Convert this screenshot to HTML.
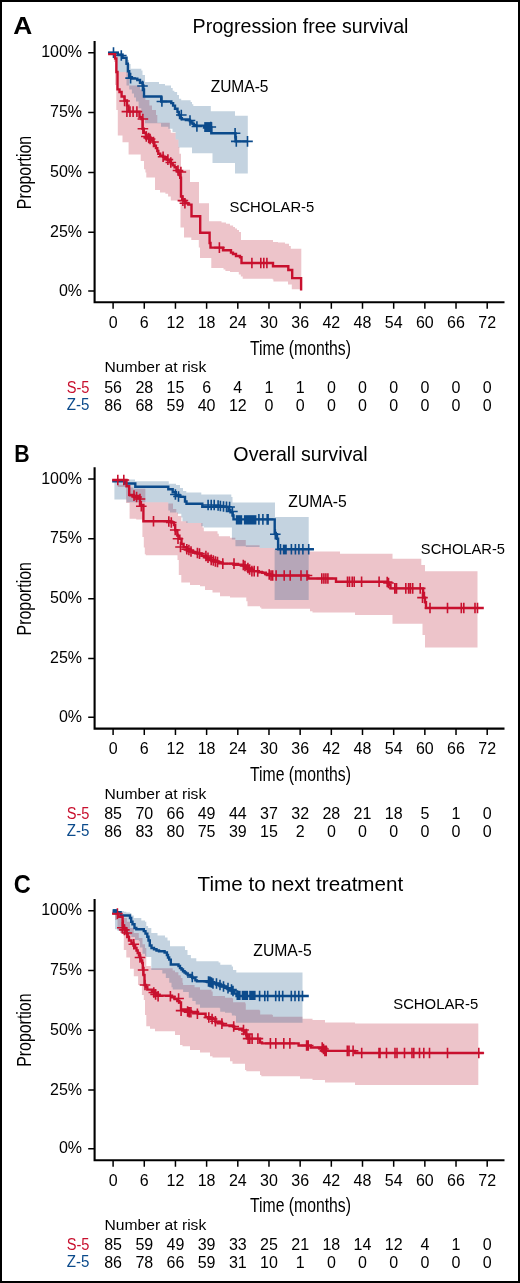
<!DOCTYPE html>
<html><head><meta charset="utf-8"><style>
html,body{margin:0;padding:0;background:#fff;overflow:hidden;}
svg{display:block;font-family:"Liberation Sans", sans-serif;will-change:transform;}
</style></head><body>
<svg width="520" height="1283" viewBox="0 0 520 1283" font-family='"Liberation Sans", sans-serif'>
<rect x="1" y="1" width="518" height="1281" fill="none" stroke="#000" stroke-width="2"/>
<polygon points="108.80,53.50 114.00,53.50 114.00,60.00 116.00,60.00 116.00,66.00 117.00,66.00 117.00,72.00 129.20,72.00 129.20,85.40 140.00,85.40 140.00,89.40 142.70,89.40 142.70,95.00 145.40,95.00 145.40,100.00 149.40,100.00 149.40,105.60 152.00,105.60 152.00,110.00 156.00,110.00 156.00,115.00 157.30,115.00 157.30,122.80 169.80,122.80 169.80,129.80 170.80,129.80 170.80,132.70 175.60,132.70 175.60,139.40 178.50,139.40 178.50,147.00 179.40,147.00 179.40,153.80 181.00,153.80 181.00,169.80 190.00,169.80 190.00,182.00 199.00,182.00 199.00,203.30 209.00,203.30 209.00,221.30 221.50,221.30 221.50,222.50 226.00,222.50 226.00,223.70 230.00,223.70 230.00,225.60 233.10,225.60 233.10,227.00 235.00,227.00 235.00,228.50 237.00,228.50 237.00,230.00 239.00,230.00 239.00,232.00 241.00,232.00 241.00,240.00 273.00,240.00 273.00,241.90 278.00,241.90 278.00,242.50 285.00,242.50 285.00,243.80 289.00,243.80 289.00,246.00 290.80,246.00 290.80,248.70 301.30,248.70 301.30,290.00 301.30,289.20 291.80,289.20 291.80,284.60 288.00,284.60 288.00,281.50 273.40,281.50 273.40,279.60 272.60,279.60 272.60,278.80 242.70,278.80 242.70,276.50 240.80,276.50 240.80,274.50 238.80,274.50 238.80,272.00 230.00,272.00 230.00,271.00 225.40,271.00 225.40,269.50 223.50,269.50 223.50,268.00 211.30,268.00 211.30,258.00 200.00,258.00 200.00,247.50 198.80,247.50 198.80,240.00 191.30,240.00 191.30,237.50 184.00,237.50 184.00,227.50 180.50,227.50 180.50,201.90 178.80,201.90 178.80,200.60 170.80,200.60 170.80,196.50 168.10,196.50 168.10,193.80 165.40,193.80 165.40,192.50 160.00,192.50 160.00,190.00 155.00,190.00 155.00,177.50 146.30,177.50 146.30,172.50 145.40,172.50 145.40,169.20 144.00,169.20 144.00,161.10 140.70,161.10 140.70,154.40 128.60,154.40 128.60,142.30 122.50,142.30 122.50,135.60 117.80,135.60 117.80,110.00 116.30,110.00 116.30,85.00 115.00,85.00 115.00,62.00 114.00,62.00 114.00,53.50 108.80,53.50" fill="#b7132b" fill-opacity="0.25"/>
<polygon points="113.00,53.00 123.80,53.00 123.80,57.50 127.50,57.50 127.50,60.00 129.00,60.00 129.00,64.00 130.60,64.00 130.60,68.80 141.30,68.80 141.30,70.60 142.50,70.60 142.50,75.00 145.00,75.00 145.00,82.00 159.00,82.00 159.00,84.00 165.00,84.00 165.00,85.40 171.00,85.40 171.00,88.00 172.70,88.00 172.70,90.80 174.40,90.80 174.40,92.00 177.10,92.00 177.10,95.00 179.00,95.00 179.00,98.80 181.20,98.80 181.20,100.20 190.60,100.20 190.60,102.00 192.00,102.00 192.00,104.20 193.30,104.20 193.30,106.00 210.80,106.00 210.80,111.20 235.00,111.20 235.00,115.80 247.80,115.80 247.80,173.40 235.00,173.40 235.00,163.10 212.50,163.10 212.50,153.30 192.00,153.30 192.00,147.40 178.50,147.40 178.50,139.40 175.60,139.40 175.60,132.00 172.50,132.00 172.50,128.80 168.30,128.80 168.30,126.80 161.00,126.80 161.00,123.20 145.00,123.20 145.00,119.00 143.80,119.00 143.80,115.00 141.30,115.00 141.30,108.30 138.60,108.30 138.60,101.50 136.00,101.50 136.00,97.50 134.00,97.50 134.00,93.50 131.90,93.50 131.90,89.40 129.20,89.40 129.20,85.40 126.50,85.40 126.50,72.00 117.00,72.00 117.00,56.00 115.00,56.00 115.00,53.00 113.00,53.00" fill="#134f83" fill-opacity="0.25"/>
<path d="M108.10,52.60H117.80V54.70H122.50V57.80H126.50V63.80H127.90V71.20H129.20V77.30H131.90V78.60H137.30V80.00H140.00V82.70H142.70V85.40H143.40V89.40H144.00V96.50H161.20V101.50H171.30V103.10H173.10V105.60H175.00V108.80H177.50V111.90H178.80V115.00H180.00V118.10H181.90V119.40H188.80V120.00H190.00V121.30H191.30V122.50H192.50V123.80H193.80V125.00H195.00V125.60H204.00V127.50H211.30V133.20H235.50V141.40H247.50" stroke="#0b4a8b" stroke-width="2.4" fill="none"/>
<path d="M108.20,52.60H118.80M113.50,47.30V57.90M116.00,55.50H126.60M121.30,50.20V60.80M125.30,78.10H135.90M130.60,72.80V83.40M137.20,86.00H147.80M142.50,80.70V91.30M156.60,101.50H167.20M161.90,96.20V106.80M176.00,115.00H186.60M181.30,109.70V120.30M184.70,120.50H195.30M190.00,115.20V125.80M191.60,126.50H202.20M196.90,121.20V131.80M229.80,133.20H240.40M235.10,127.90V138.50M231.00,141.40H241.60M236.30,136.10V146.70M242.20,141.40H252.80M247.50,136.10V146.70M205.50,127.00H216.10M210.80,121.70V132.30" stroke="#0b4a8b" stroke-width="1.6" fill="none"/>
<path d="M108.10,54.10H115.10V58.50H116.40V72.00H117.50V89.40H119.50V92.00H121.60V96.50H124.50V100.50H127.00V105.60H128.50V111.60H139.50V117.00H141.50V119.00H142.50V128.80H143.80V132.70H145.80V134.60H146.70V137.50H149.60V138.50H151.50V140.40H153.50V142.80H154.40V145.70H155.90V148.10H157.30V151.00H158.30V153.80H160.20V155.80H163.10V156.70H165.00V158.20H166.90V159.60H169.80V161.50H170.80V163.50H172.70V165.40H174.60V167.30H176.50V170.20H178.50V172.10H179.40V175.00H180.20V177.70H181.00V196.50H182.20V199.50H184.20V201.00H185.60V203.30H188.30V204.60H191.50V216.20H200.20V232.70H209.60V243.00H210.50V247.60H223.00V250.20H231.00V252.60H233.00V254.00H236.00V256.00H240.00V257.20H241.50V263.00H273.00V266.30H288.30V270.00H292.20V278.10H301.10V290.40" stroke="#c8102e" stroke-width="2.4" fill="none"/>
<path d="M121.60,111.60H132.20M126.90,106.30V116.90M124.70,111.60H135.30M130.00,106.30V116.90M127.80,111.60H138.40M133.10,106.30V116.90M131.60,111.60H142.20M136.90,106.30V116.90M119.30,101.00H129.90M124.60,95.70V106.30M137.60,119.00H148.20M142.90,113.70V124.30M137.60,128.80H148.20M142.90,123.50V134.10M141.00,136.50H151.60M146.30,131.20V141.80M143.40,138.00H154.00M148.70,132.70V143.30M144.80,139.00H155.40M150.10,133.70V144.30M148.20,142.00H158.80M153.50,136.70V147.30M157.80,156.70H168.40M163.10,151.40V162.00M162.60,159.60H173.20M167.90,154.30V164.90M165.50,162.50H176.10M170.80,157.20V167.80M172.70,170.50H183.30M178.00,165.20V175.80M175.60,172.00H186.20M180.90,166.70V177.30M177.60,200.60H188.20M182.90,195.30V205.90M179.60,203.30H190.20M184.90,198.00V208.60M214.10,247.60H224.70M219.40,242.30V252.90M246.60,263.00H257.20M251.90,257.70V268.30M255.50,263.00H266.10M260.80,257.70V268.30M258.50,263.00H269.10M263.80,257.70V268.30M261.60,263.00H272.20M266.90,257.70V268.30" stroke="#c8102e" stroke-width="1.6" fill="none"/>
<path d="M94.6,41.0V302.3H504.5" stroke="#000" stroke-width="2.1" fill="none"/>
<path d="M88.2,52.85H94.6M88.2,112.60H94.6M88.2,172.50H94.6M88.2,232.30H94.6M88.2,291.00H94.6M113.10,302.3V308.80M144.28,302.3V308.80M175.45,302.3V308.80M206.62,302.3V308.80M237.80,302.3V308.80M268.98,302.3V308.80M300.15,302.3V308.80M331.33,302.3V308.80M362.50,302.3V308.80M393.68,302.3V308.80M424.85,302.3V308.80M456.02,302.3V308.80M487.20,302.3V308.80" stroke="#000" stroke-width="1.5" fill="none"/>
<text x="41.14" y="57.35" font-size="16" fill="#000">100%</text>
<text x="50.06" y="117.10" font-size="16" fill="#000">75%</text>
<text x="50.06" y="177.00" font-size="16" fill="#000">50%</text>
<text x="50.06" y="236.80" font-size="16" fill="#000">25%</text>
<text x="58.94" y="295.50" font-size="16" fill="#000">0%</text>
<text x="113.10" y="327.80" font-size="16" text-anchor="middle" fill="#000">0</text>
<text x="144.28" y="327.80" font-size="16" text-anchor="middle" fill="#000">6</text>
<text x="175.45" y="327.80" font-size="16" text-anchor="middle" fill="#000">12</text>
<text x="206.62" y="327.80" font-size="16" text-anchor="middle" fill="#000">18</text>
<text x="237.80" y="327.80" font-size="16" text-anchor="middle" fill="#000">24</text>
<text x="268.98" y="327.80" font-size="16" text-anchor="middle" fill="#000">30</text>
<text x="300.15" y="327.80" font-size="16" text-anchor="middle" fill="#000">36</text>
<text x="331.33" y="327.80" font-size="16" text-anchor="middle" fill="#000">42</text>
<text x="362.50" y="327.80" font-size="16" text-anchor="middle" fill="#000">48</text>
<text x="393.68" y="327.80" font-size="16" text-anchor="middle" fill="#000">54</text>
<text x="424.85" y="327.80" font-size="16" text-anchor="middle" fill="#000">60</text>
<text x="456.02" y="327.80" font-size="16" text-anchor="middle" fill="#000">66</text>
<text x="487.20" y="327.80" font-size="16" text-anchor="middle" fill="#000">72</text>
<text x="113.10" y="392.80" font-size="16" text-anchor="middle" fill="#000">56</text>
<text x="113.10" y="410.70" font-size="16" text-anchor="middle" fill="#000">86</text>
<text x="144.28" y="392.80" font-size="16" text-anchor="middle" fill="#000">28</text>
<text x="144.28" y="410.70" font-size="16" text-anchor="middle" fill="#000">68</text>
<text x="175.45" y="392.80" font-size="16" text-anchor="middle" fill="#000">15</text>
<text x="175.45" y="410.70" font-size="16" text-anchor="middle" fill="#000">59</text>
<text x="206.62" y="392.80" font-size="16" text-anchor="middle" fill="#000">6</text>
<text x="206.62" y="410.70" font-size="16" text-anchor="middle" fill="#000">40</text>
<text x="237.80" y="392.80" font-size="16" text-anchor="middle" fill="#000">4</text>
<text x="237.80" y="410.70" font-size="16" text-anchor="middle" fill="#000">12</text>
<text x="268.98" y="392.80" font-size="16" text-anchor="middle" fill="#000">1</text>
<text x="268.98" y="410.70" font-size="16" text-anchor="middle" fill="#000">0</text>
<text x="300.15" y="392.80" font-size="16" text-anchor="middle" fill="#000">1</text>
<text x="300.15" y="410.70" font-size="16" text-anchor="middle" fill="#000">0</text>
<text x="331.33" y="392.80" font-size="16" text-anchor="middle" fill="#000">0</text>
<text x="331.33" y="410.70" font-size="16" text-anchor="middle" fill="#000">0</text>
<text x="362.50" y="392.80" font-size="16" text-anchor="middle" fill="#000">0</text>
<text x="362.50" y="410.70" font-size="16" text-anchor="middle" fill="#000">0</text>
<text x="393.68" y="392.80" font-size="16" text-anchor="middle" fill="#000">0</text>
<text x="393.68" y="410.70" font-size="16" text-anchor="middle" fill="#000">0</text>
<text x="424.85" y="392.80" font-size="16" text-anchor="middle" fill="#000">0</text>
<text x="424.85" y="410.70" font-size="16" text-anchor="middle" fill="#000">0</text>
<text x="456.02" y="392.80" font-size="16" text-anchor="middle" fill="#000">0</text>
<text x="456.02" y="410.70" font-size="16" text-anchor="middle" fill="#000">0</text>
<text x="487.20" y="392.80" font-size="16" text-anchor="middle" fill="#000">0</text>
<text x="487.20" y="410.70" font-size="16" text-anchor="middle" fill="#000">0</text>
<text x="66.64" y="392.70" font-size="16" fill="#c8102e" textLength="22.76" lengthAdjust="spacingAndGlyphs">S-5</text>
<text x="66.81" y="409.60" font-size="16" fill="#0b4a8b" textLength="22.63" lengthAdjust="spacingAndGlyphs">Z-5</text>
<text x="104.51" y="372.30" font-size="15.5" fill="#000" textLength="101.78" lengthAdjust="spacingAndGlyphs">Number at risk</text>
<text x="250.05" y="354.80" font-size="20" fill="#000" textLength="100.95" lengthAdjust="spacingAndGlyphs">Time (months)</text>
<text transform="translate(30.70,209.21) rotate(-90)" x="0" y="0" font-size="20.5" fill="#000" textLength="73.33" lengthAdjust="spacingAndGlyphs">Proportion</text>
<text x="192.58" y="32.70" font-size="20.2" fill="#000" textLength="215.83" lengthAdjust="spacingAndGlyphs">Progression free survival</text>
<text x="13.19" y="33.70" font-size="24.5" font-weight="bold" fill="#000" textLength="19.02" lengthAdjust="spacingAndGlyphs">A</text>
<text x="210.70" y="92.10" font-size="15.8" fill="#000" textLength="57.76" lengthAdjust="spacingAndGlyphs">ZUMA-5</text>
<text x="229.53" y="211.60" font-size="15.5" fill="#000" textLength="84.78" lengthAdjust="spacingAndGlyphs">SCHOLAR-5</text>
<polygon points="112.20,480.00 117.80,480.00 117.80,484.80 128.50,484.80 128.50,487.50 133.30,487.50 133.30,488.80 145.40,488.80 145.40,502.30 168.30,502.30 168.30,503.60 173.00,503.60 173.00,506.30 173.00,509.00 176.30,509.00 176.30,512.50 178.00,512.50 178.00,516.00 181.30,516.00 181.30,521.30 187.50,521.30 187.50,523.10 202.50,523.10 202.50,527.50 203.80,527.50 203.80,531.30 217.50,531.30 217.50,533.80 218.80,533.80 218.80,536.30 230.00,536.30 230.00,537.70 235.40,537.70 235.40,540.00 245.80,540.00 245.80,545.20 259.60,545.20 259.60,548.00 274.60,548.00 274.60,549.50 308.70,549.50 308.70,551.50 340.00,551.50 340.00,553.80 392.50,553.80 392.50,558.80 421.30,558.80 421.30,565.00 425.00,565.00 425.00,571.30 477.50,571.30 477.50,647.50 477.50,647.50 425.00,647.50 425.00,635.00 422.50,635.00 422.50,623.80 392.50,623.80 392.50,615.00 355.00,615.00 355.00,612.50 312.50,612.50 312.50,611.30 310.00,611.30 310.00,608.80 261.30,608.80 261.30,607.50 260.00,607.50 260.00,606.30 247.50,606.30 247.50,601.30 246.30,601.30 246.30,597.50 230.00,597.50 230.00,596.30 220.00,596.30 220.00,592.50 212.50,592.50 212.50,590.00 205.00,590.00 205.00,586.30 200.00,586.30 200.00,585.00 190.00,585.00 190.00,582.50 181.30,582.50 181.30,575.00 178.80,575.00 178.80,560.00 177.50,560.00 177.50,555.20 145.80,555.20 145.80,554.20 144.80,554.20 144.80,547.50 143.80,547.50 143.80,536.90 142.40,536.90 142.40,519.60 136.20,519.60 136.20,518.70 129.60,518.70 129.60,503.00 126.10,503.00 126.10,487.00 117.80,487.00 117.80,480.00 112.20,480.00" fill="#b7132b" fill-opacity="0.25"/>
<polygon points="112.20,479.50 135.00,479.50 135.00,481.30 168.80,481.30 168.80,483.80 176.00,483.80 176.00,485.00 180.00,485.00 180.00,488.00 183.00,488.00 183.00,491.00 186.30,491.00 186.30,492.50 201.30,492.50 201.30,494.40 231.30,494.40 231.30,497.00 232.50,497.00 232.50,502.50 275.00,502.50 275.00,516.90 308.70,516.90 308.70,600.00 274.60,600.00 274.60,548.00 259.60,548.00 259.60,546.90 245.80,546.90 245.80,546.30 235.40,546.30 235.40,539.40 231.90,539.40 231.90,527.50 203.80,527.50 203.80,526.30 201.30,526.30 201.30,523.10 186.30,523.10 186.30,521.30 182.50,521.30 182.50,517.50 181.30,517.50 181.30,513.80 177.50,513.80 177.50,512.50 170.00,512.50 170.00,510.40 168.30,510.40 168.30,502.30 126.50,502.30 126.50,499.60 114.40,499.60 114.40,479.50 112.20,479.50" fill="#134f83" fill-opacity="0.25"/>
<path d="M112.20,481.20H125.20V483.50H135.30V486.80H168.30V489.20H172.70V492.30H175.80V495.40H180.40V496.90H185.00V501.50H186.50V503.80H202.30V506.90H228.50V510.00H230.50V512.30H232.70V515.40H233.50V519.40H274.70V533.00H275.80V534.20H277.00V538.80H278.10V549.20H313.90" stroke="#0b4a8b" stroke-width="2.4" fill="none"/>
<path d="M170.10,494.50H180.70M175.40,489.20V499.80M173.20,496.50H183.80M178.50,491.20V501.80M202.80,505.00H213.40M208.10,499.70V510.30M205.90,505.00H216.50M211.20,499.70V510.30M208.90,505.00H219.50M214.20,499.70V510.30M212.80,505.50H223.40M218.10,500.20V510.80M215.10,506.00H225.70M220.40,500.70V511.30M218.20,506.50H228.80M223.50,501.20V511.80M221.20,506.90H231.80M226.50,501.60V512.20M224.30,507.00H234.90M229.60,501.70V512.30M227.10,511.50H237.70M232.40,506.20V516.80M253.60,519.40H264.20M258.90,514.10V524.70M257.60,519.40H268.20M262.90,514.10V524.70M261.90,519.40H272.50M267.20,514.10V524.70M262.80,519.40H273.40M268.10,514.10V524.70M270.00,534.20H280.60M275.30,528.90V539.50M275.20,549.20H285.80M280.50,543.90V554.50M286.10,549.20H296.70M291.40,543.90V554.50M290.10,549.20H300.70M295.40,543.90V554.50M293.60,549.20H304.20M298.90,543.90V554.50M297.60,549.20H308.20M302.90,543.90V554.50M303.40,549.20H314.00M308.70,543.90V554.50" stroke="#0b4a8b" stroke-width="1.6" fill="none"/>
<path d="M112.20,480.00H126.50V486.20H129.20V494.90H134.00V497.00H137.00V498.30H140.00V505.00H143.40V521.20H169.60V521.50H171.50V522.50H174.00V525.00H175.20V530.30H177.30V535.60H179.40V538.80H181.50V544.00H183.60V547.20H186.80V549.30H190.00V551.50H193.20V552.50H197.40V553.60H201.60V555.70H205.90V557.80H210.10V559.90H214.30V561.50H218.60V562.60H222.80V563.60H233.50V564.70H242.70V565.30H245.00V567.00H248.40V568.80H249.60V571.10H258.80V572.20H262.30V572.80H265.80V574.00H270.40V575.50H308.40V578.50H336.00V581.80H387.50V582.60H389.00V584.90H390.50V588.40H423.10V593.00H424.00V597.60H425.00V602.20H426.00V608.00H483.80" stroke="#c8102e" stroke-width="2.4" fill="none"/>
<path d="M112.50,480.00H123.10M117.80,474.70V485.30M118.50,480.00H129.10M123.80,474.70V485.30M128.70,495.60H139.30M134.00,490.30V500.90M131.30,497.00H141.90M136.60,491.70V502.30M134.70,499.00H145.30M140.00,493.70V504.30M136.00,506.30H146.60M141.30,501.00V511.60M148.20,521.20H158.80M153.50,515.90V526.50M163.50,521.50H174.10M168.80,516.20V526.80M166.00,522.50H176.60M171.30,517.20V527.80M169.90,530.00H180.50M175.20,524.70V535.30M172.70,538.80H183.30M178.00,533.50V544.10M175.20,547.00H185.80M180.50,541.70V552.30M181.50,549.30H192.10M186.80,544.00V554.60M183.60,550.00H194.20M188.90,544.70V555.30M185.70,551.50H196.30M191.00,546.20V556.80M192.10,553.00H202.70M197.40,547.70V558.30M194.20,553.60H204.80M199.50,548.30V558.90M200.60,556.00H211.20M205.90,550.70V561.30M202.70,557.80H213.30M208.00,552.50V563.10M205.90,559.90H216.50M211.20,554.60V565.20M208.00,560.50H218.60M213.30,555.20V565.80M210.10,561.50H220.70M215.40,556.20V566.80M212.20,562.00H222.80M217.50,556.70V567.30M217.50,563.60H228.10M222.80,558.30V568.90M228.70,563.60H239.30M234.00,558.30V568.90M238.00,565.00H248.60M243.30,559.70V570.30M239.70,566.00H250.30M245.00,560.70V571.30M242.60,568.00H253.20M247.90,562.70V573.30M244.30,569.50H254.90M249.60,564.20V574.80M246.60,571.10H257.20M251.90,565.80V576.40M248.90,571.10H259.50M254.20,565.80V576.40M252.40,571.50H263.00M257.70,566.20V576.80M263.90,574.50H274.50M269.20,569.20V579.80M265.70,575.50H276.30M271.00,570.20V580.80M267.40,575.50H278.00M272.70,570.20V580.80M270.80,575.50H281.40M276.10,570.20V580.80M278.90,575.50H289.50M284.20,570.20V580.80M284.90,575.50H295.50M290.20,570.20V580.80M295.70,575.50H306.30M301.00,570.20V580.80M301.70,575.50H312.30M307.00,570.20V580.80M316.50,578.50H327.10M321.80,573.20V583.80M318.60,578.50H329.20M323.90,573.20V583.80M320.60,578.50H331.20M325.90,573.20V583.80M322.60,578.50H333.20M327.90,573.20V583.80M342.20,581.80H352.80M347.50,576.50V587.10M344.20,581.80H354.80M349.50,576.50V587.10M346.90,581.80H357.50M352.20,576.50V587.10M348.90,581.80H359.50M354.20,576.50V587.10M356.30,581.80H366.90M361.60,576.50V587.10M373.80,581.80H384.40M379.10,576.50V587.10M381.90,582.00H392.50M387.20,576.70V587.30M383.20,583.00H393.80M388.50,577.70V588.30M389.50,588.40H400.10M394.80,583.10V593.70M391.20,588.40H401.80M396.50,583.10V593.70M400.50,588.40H411.10M405.80,583.10V593.70M403.30,588.40H413.90M408.60,583.10V593.70M405.10,588.40H415.70M410.40,583.10V593.70M407.40,588.40H418.00M412.70,583.10V593.70M414.90,588.40H425.50M420.20,583.10V593.70M417.20,597.60H427.80M422.50,592.30V602.90M424.70,608.00H435.30M430.00,602.70V613.30M442.20,608.00H452.80M447.50,602.70V613.30M456.00,608.00H466.60M461.30,602.70V613.30M458.50,608.00H469.10M463.80,602.70V613.30M469.70,608.00H480.30M475.00,602.70V613.30M472.20,608.00H482.80M477.50,602.70V613.30" stroke="#c8102e" stroke-width="1.6" fill="none"/>
<path d="M94.6,467.3V728.6H504.5" stroke="#000" stroke-width="2.1" fill="none"/>
<path d="M88.2,479.05H94.6M88.2,538.80H94.6M88.2,598.70H94.6M88.2,658.50H94.6M88.2,717.20H94.6M113.10,728.6V735.10M144.28,728.6V735.10M175.45,728.6V735.10M206.62,728.6V735.10M237.80,728.6V735.10M268.98,728.6V735.10M300.15,728.6V735.10M331.33,728.6V735.10M362.50,728.6V735.10M393.68,728.6V735.10M424.85,728.6V735.10M456.02,728.6V735.10M487.20,728.6V735.10" stroke="#000" stroke-width="1.5" fill="none"/>
<text x="41.14" y="483.55" font-size="16" fill="#000">100%</text>
<text x="50.06" y="543.30" font-size="16" fill="#000">75%</text>
<text x="50.06" y="603.20" font-size="16" fill="#000">50%</text>
<text x="50.06" y="663.00" font-size="16" fill="#000">25%</text>
<text x="58.94" y="721.70" font-size="16" fill="#000">0%</text>
<text x="113.10" y="754.00" font-size="16" text-anchor="middle" fill="#000">0</text>
<text x="144.28" y="754.00" font-size="16" text-anchor="middle" fill="#000">6</text>
<text x="175.45" y="754.00" font-size="16" text-anchor="middle" fill="#000">12</text>
<text x="206.62" y="754.00" font-size="16" text-anchor="middle" fill="#000">18</text>
<text x="237.80" y="754.00" font-size="16" text-anchor="middle" fill="#000">24</text>
<text x="268.98" y="754.00" font-size="16" text-anchor="middle" fill="#000">30</text>
<text x="300.15" y="754.00" font-size="16" text-anchor="middle" fill="#000">36</text>
<text x="331.33" y="754.00" font-size="16" text-anchor="middle" fill="#000">42</text>
<text x="362.50" y="754.00" font-size="16" text-anchor="middle" fill="#000">48</text>
<text x="393.68" y="754.00" font-size="16" text-anchor="middle" fill="#000">54</text>
<text x="424.85" y="754.00" font-size="16" text-anchor="middle" fill="#000">60</text>
<text x="456.02" y="754.00" font-size="16" text-anchor="middle" fill="#000">66</text>
<text x="487.20" y="754.00" font-size="16" text-anchor="middle" fill="#000">72</text>
<text x="113.10" y="819.00" font-size="16" text-anchor="middle" fill="#000">85</text>
<text x="113.10" y="836.90" font-size="16" text-anchor="middle" fill="#000">86</text>
<text x="144.28" y="819.00" font-size="16" text-anchor="middle" fill="#000">70</text>
<text x="144.28" y="836.90" font-size="16" text-anchor="middle" fill="#000">83</text>
<text x="175.45" y="819.00" font-size="16" text-anchor="middle" fill="#000">66</text>
<text x="175.45" y="836.90" font-size="16" text-anchor="middle" fill="#000">80</text>
<text x="206.62" y="819.00" font-size="16" text-anchor="middle" fill="#000">49</text>
<text x="206.62" y="836.90" font-size="16" text-anchor="middle" fill="#000">75</text>
<text x="237.80" y="819.00" font-size="16" text-anchor="middle" fill="#000">44</text>
<text x="237.80" y="836.90" font-size="16" text-anchor="middle" fill="#000">39</text>
<text x="268.98" y="819.00" font-size="16" text-anchor="middle" fill="#000">37</text>
<text x="268.98" y="836.90" font-size="16" text-anchor="middle" fill="#000">15</text>
<text x="300.15" y="819.00" font-size="16" text-anchor="middle" fill="#000">32</text>
<text x="300.15" y="836.90" font-size="16" text-anchor="middle" fill="#000">2</text>
<text x="331.33" y="819.00" font-size="16" text-anchor="middle" fill="#000">28</text>
<text x="331.33" y="836.90" font-size="16" text-anchor="middle" fill="#000">0</text>
<text x="362.50" y="819.00" font-size="16" text-anchor="middle" fill="#000">21</text>
<text x="362.50" y="836.90" font-size="16" text-anchor="middle" fill="#000">0</text>
<text x="393.68" y="819.00" font-size="16" text-anchor="middle" fill="#000">18</text>
<text x="393.68" y="836.90" font-size="16" text-anchor="middle" fill="#000">0</text>
<text x="424.85" y="819.00" font-size="16" text-anchor="middle" fill="#000">5</text>
<text x="424.85" y="836.90" font-size="16" text-anchor="middle" fill="#000">0</text>
<text x="456.02" y="819.00" font-size="16" text-anchor="middle" fill="#000">1</text>
<text x="456.02" y="836.90" font-size="16" text-anchor="middle" fill="#000">0</text>
<text x="487.20" y="819.00" font-size="16" text-anchor="middle" fill="#000">0</text>
<text x="487.20" y="836.90" font-size="16" text-anchor="middle" fill="#000">0</text>
<text x="66.64" y="818.90" font-size="16" fill="#c8102e" textLength="22.76" lengthAdjust="spacingAndGlyphs">S-5</text>
<text x="66.81" y="835.80" font-size="16" fill="#0b4a8b" textLength="22.63" lengthAdjust="spacingAndGlyphs">Z-5</text>
<text x="104.51" y="798.50" font-size="15.5" fill="#000" textLength="101.78" lengthAdjust="spacingAndGlyphs">Number at risk</text>
<text x="250.05" y="781.00" font-size="20" fill="#000" textLength="100.95" lengthAdjust="spacingAndGlyphs">Time (months)</text>
<text transform="translate(30.70,635.41) rotate(-90)" x="0" y="0" font-size="20.5" fill="#000" textLength="73.33" lengthAdjust="spacingAndGlyphs">Proportion</text>
<text x="233.37" y="460.60" font-size="20.2" fill="#000" textLength="134.26" lengthAdjust="spacingAndGlyphs">Overall survival</text>
<text x="14.36" y="461.90" font-size="24.5" font-weight="bold" fill="#000" textLength="15.39" lengthAdjust="spacingAndGlyphs">B</text>
<text x="288.29" y="506.60" font-size="15.8" fill="#000" textLength="58.58" lengthAdjust="spacingAndGlyphs">ZUMA-5</text>
<text x="420.84" y="553.60" font-size="15.5" fill="#000" textLength="84.17" lengthAdjust="spacingAndGlyphs">SCHOLAR-5</text>
<polygon points="112.20,910.50 117.00,910.50 117.00,912.00 120.00,912.00 120.00,914.00 121.30,914.00 121.30,918.00 126.90,918.00 126.90,921.80 130.00,921.80 130.00,928.00 133.80,928.00 133.80,933.00 138.80,933.00 138.80,938.00 142.50,938.00 142.50,944.30 145.00,944.30 145.00,948.00 146.30,948.00 146.30,966.00 150.80,966.00 150.80,968.30 172.70,968.30 172.70,970.60 175.00,970.60 175.00,972.30 178.40,972.30 178.40,975.20 180.80,975.20 180.80,978.10 182.50,978.10 182.50,982.70 183.10,982.70 183.10,985.00 194.60,985.00 194.60,987.30 200.00,987.30 200.00,989.80 211.50,989.80 211.50,991.50 212.70,991.50 212.70,996.10 225.00,996.10 225.00,997.70 231.90,997.70 231.90,998.30 233.10,998.30 233.10,1002.30 245.20,1002.30 245.20,1003.50 245.80,1003.50 245.80,1009.80 259.60,1009.80 259.60,1010.40 260.20,1010.40 260.20,1014.40 272.30,1014.40 272.30,1015.00 272.90,1015.00 272.90,1016.70 302.50,1016.70 302.50,1018.80 312.50,1018.80 312.50,1020.00 325.00,1020.00 325.00,1022.50 355.00,1022.50 355.00,1023.50 478.30,1023.50 478.30,1084.50 478.30,1085.00 355.00,1085.00 355.00,1082.50 325.00,1082.50 325.00,1080.00 312.50,1080.00 312.50,1078.80 300.00,1078.80 300.00,1076.30 261.30,1076.30 261.30,1075.00 260.00,1075.00 260.00,1071.30 246.30,1071.30 246.30,1070.00 245.00,1070.00 245.00,1063.80 232.50,1063.80 232.50,1061.30 230.00,1061.30 230.00,1057.50 212.50,1057.50 212.50,1056.30 210.00,1056.30 210.00,1052.50 200.00,1052.50 200.00,1050.00 190.00,1050.00 190.00,1046.30 182.50,1046.30 182.50,1045.00 180.00,1045.00 180.00,1035.00 175.00,1035.00 175.00,1031.30 155.00,1031.30 155.00,1028.80 150.00,1028.80 150.00,1026.30 146.30,1026.30 146.30,1015.00 145.00,1015.00 145.00,1000.00 143.80,1000.00 143.80,995.00 141.90,995.00 141.90,985.00 138.10,985.00 138.10,976.30 133.80,976.30 133.80,968.80 130.00,968.80 130.00,957.50 126.30,957.50 126.30,950.00 123.80,950.00 123.80,933.00 120.00,933.00 120.00,930.00 117.50,930.00 117.50,920.00 115.00,920.00 115.00,913.60 112.20,913.60" fill="#b7132b" fill-opacity="0.25"/>
<polygon points="113.10,910.50 117.50,910.50 117.50,911.10 123.80,911.10 123.80,911.80 126.30,911.80 126.30,912.40 130.00,912.40 130.00,913.00 131.30,913.00 131.30,915.50 133.80,915.50 133.80,918.00 141.30,918.00 141.30,920.50 145.00,920.50 145.00,921.80 146.30,921.80 146.30,926.10 148.10,926.10 148.10,928.00 151.30,928.00 151.30,933.00 157.50,933.00 157.50,935.50 165.00,935.50 165.00,937.50 167.50,937.50 167.50,940.50 170.00,940.50 170.00,946.30 185.00,946.30 185.00,950.00 187.50,950.00 187.50,955.00 190.90,955.00 190.90,958.30 196.30,958.30 196.30,961.30 218.60,961.30 218.60,962.40 220.30,962.40 220.30,964.80 231.70,964.80 231.70,966.50 233.00,966.50 233.00,970.00 236.30,970.00 236.30,972.50 302.50,972.50 302.50,1022.70 236.00,1022.70 236.00,1016.10 235.40,1016.10 235.40,1015.60 231.90,1015.60 231.90,1013.30 231.30,1013.30 231.30,1012.70 225.00,1012.70 225.00,1011.70 220.20,1011.70 220.20,1008.30 219.60,1008.30 219.60,1007.70 200.00,1007.70 200.00,1004.60 195.70,1004.60 195.70,1001.10 192.30,1001.10 192.30,997.70 188.80,997.70 188.80,991.90 183.10,991.90 183.10,989.60 172.70,989.60 172.70,987.30 171.50,987.30 171.50,982.70 169.20,982.70 169.20,978.10 165.80,978.10 165.80,973.50 162.30,973.50 162.30,970.00 151.30,970.00 151.30,957.00 146.30,957.00 146.30,956.30 145.00,956.30 145.00,953.80 142.50,953.80 142.50,947.50 140.00,947.50 140.00,941.30 138.80,941.30 138.80,940.00 135.00,940.00 135.00,937.00 131.30,937.00 131.30,935.00 126.00,935.00 126.00,933.00 121.00,933.00 121.00,931.00 117.50,931.00 117.50,929.30 115.00,929.30 115.00,910.50 113.10,910.50" fill="#134f83" fill-opacity="0.25"/>
<path d="M113.10,910.80H116.50V912.20H120.60V915.50H130.00V918.00H131.20V921.80H132.50V924.30H134.50V928.00H136.30V929.30H143.80V931.10H145.50V933.60H147.30V936.80H148.50V940.50H149.80V945.50H151.50V948.00H154.00V949.30H156.50V950.50H159.00V951.20H164.60V952.50H166.90V955.00H168.00V957.50H169.20V959.60H170.80V964.50H178.50V966.00H180.00V968.10H181.50V969.50H183.00V971.20H184.60V972.50H186.00V973.50H187.70V975.00H190.80V976.50H192.30V978.10H195.40V980.40H196.90V981.20H207.70V981.90H210.80V983.50H218.50V985.00H221.50V986.50H226.20V988.10H230.80V990.40H233.80V993.50H236.50V996.00H308.80" stroke="#0b4a8b" stroke-width="2.4" fill="none"/>
<path d="M254.30,996.00H264.90M259.60,990.70V1001.30M259.50,996.00H270.10M264.80,990.70V1001.30M262.40,996.00H273.00M267.70,990.70V1001.30M270.40,996.00H281.00M275.70,990.70V1001.30M273.90,996.00H284.50M279.20,990.70V1001.30M277.40,996.00H288.00M282.70,990.70V1001.30M286.00,996.00H296.60M291.30,990.70V1001.30M289.70,996.00H300.30M295.00,990.70V1001.30M293.50,996.00H304.10M298.80,990.70V1001.30M297.20,996.00H307.80M302.50,990.70V1001.30M187.00,977.00H197.60M192.30,971.70V982.30M203.20,981.50H213.80M208.50,976.20V986.80M204.70,981.90H215.30M210.00,976.60V987.20M206.20,982.50H216.80M211.50,977.20V987.80M207.70,983.50H218.30M213.00,978.20V988.80M211.20,983.50H221.80M216.50,978.20V988.80M214.70,985.00H225.30M220.00,979.70V990.30M218.20,986.50H228.80M223.50,981.20V991.80M222.70,988.10H233.30M228.00,982.80V993.40M226.20,989.50H236.80M231.50,984.20V994.80M227.70,991.00H238.30M233.00,985.70V996.30" stroke="#0b4a8b" stroke-width="1.6" fill="none"/>
<path d="M112.20,913.60H118.30V916.80H122.60V921.80H122.80V925.50H124.00V928.00H125.20V930.50H126.50V933.60H127.70V936.80H129.00V940.50H131.50V943.00H133.40V945.50H135.20V948.00H136.50V950.50H137.70V953.00H139.00V955.50H140.20V958.00H141.00V960.50H142.20V963.00H142.80V968.00H143.50V975.00H144.50V985.00H146.00V987.00H147.30V989.60H151.90V990.80H155.00V993.10H156.50V995.60H172.00V997.20H174.50V999.00H177.30V1001.00H179.50V1002.50H181.00V1009.50H186.00V1011.00H191.00V1012.00H198.00V1013.80H205.60V1017.10H210.50V1018.70H215.40V1022.00H221.90V1023.60H223.00V1025.40H233.10V1026.50H234.20V1028.80H242.30V1030.60H244.60V1032.30H246.30V1035.20H247.50V1038.60H260.00V1042.50H262.00V1043.40H298.60V1045.50H310.80V1047.50H322.00V1050.90H355.00V1053.00H483.80" stroke="#c8102e" stroke-width="2.4" fill="none"/>
<path d="M112.10,913.60H122.70M117.40,908.30V918.90M117.00,927.70H127.60M122.30,922.40V933.00M119.10,929.90H129.70M124.40,924.60V935.20M121.60,933.00H132.20M126.90,927.70V938.30M128.50,944.30H139.10M133.80,939.00V949.60M134.70,957.50H145.30M140.00,952.20V962.80M137.80,970.00H148.40M143.10,964.70V975.30M139.70,985.00H150.30M145.00,979.70V990.30M148.50,992.50H159.10M153.80,987.20V997.80M150.30,994.40H160.90M155.60,989.10V999.70M152.80,996.30H163.40M158.10,991.00V1001.60M165.10,996.30H175.70M170.40,991.00V1001.60M173.30,998.50H183.90M178.60,993.20V1003.80M175.80,1010.60H186.40M181.10,1005.30V1015.90M182.30,1011.50H192.90M187.60,1006.20V1016.80M183.90,1012.20H194.50M189.20,1006.90V1017.50M185.60,1012.20H196.20M190.90,1006.90V1017.50M192.10,1013.80H202.70M197.40,1008.50V1019.10M203.50,1017.50H214.10M208.80,1012.20V1022.80M206.80,1019.00H217.40M212.10,1013.70V1024.30M210.10,1021.30H220.70M215.40,1016.00V1026.60M216.60,1023.60H227.20M221.90,1018.30V1028.90M228.40,1026.50H239.00M233.70,1021.20V1031.80M238.20,1030.00H248.80M243.50,1024.70V1035.30M241.00,1034.00H251.60M246.30,1028.70V1039.30M242.80,1038.60H253.40M248.10,1033.30V1043.90M244.50,1038.60H255.10M249.80,1033.30V1043.90M246.80,1038.60H257.40M252.10,1033.30V1043.90M252.60,1038.60H263.20M257.90,1033.30V1043.90M265.10,1043.40H275.70M270.40,1038.10V1048.70M270.50,1043.40H281.10M275.80,1038.10V1048.70M278.50,1043.40H289.10M283.80,1038.10V1048.70M284.60,1043.40H295.20M289.90,1038.10V1048.70M301.30,1045.50H311.90M306.60,1040.20V1050.80M302.90,1045.50H313.50M308.20,1040.20V1050.80M316.90,1047.50H327.50M322.20,1042.20V1052.80M318.20,1049.00H328.80M323.50,1043.70V1054.30M319.60,1050.90H330.20M324.90,1045.60V1056.20M320.90,1050.90H331.50M326.20,1045.60V1056.20M342.00,1050.90H352.60M347.30,1045.60V1056.20M343.70,1050.90H354.30M349.00,1045.60V1056.20M347.80,1050.90H358.40M353.10,1045.60V1056.20M356.40,1053.00H367.00M361.70,1047.70V1058.30M373.70,1053.00H384.30M379.00,1047.70V1058.30M374.70,1053.00H385.30M380.00,1047.70V1058.30M381.20,1053.00H391.80M386.50,1047.70V1058.30M389.70,1053.00H400.30M395.00,1047.70V1058.30M391.70,1053.00H402.30M397.00,1047.70V1058.30M399.20,1053.00H409.80M404.50,1047.70V1058.30M406.70,1053.00H417.30M412.00,1047.70V1058.30M408.50,1053.00H419.10M413.80,1047.70V1058.30M414.20,1053.00H424.80M419.50,1047.70V1058.30M418.50,1053.00H429.10M423.80,1047.70V1058.30M424.20,1053.00H434.80M429.50,1047.70V1058.30M442.20,1053.00H452.80M447.50,1047.70V1058.30M473.50,1053.00H484.10M478.80,1047.70V1058.30" stroke="#c8102e" stroke-width="1.6" fill="none"/>
<path d="M94.6,899.0V1160.2H504.5" stroke="#000" stroke-width="2.1" fill="none"/>
<path d="M88.2,910.65H94.6M88.2,970.40H94.6M88.2,1030.30H94.6M88.2,1090.10H94.6M88.2,1148.80H94.6M113.10,1160.2V1166.70M144.28,1160.2V1166.70M175.45,1160.2V1166.70M206.62,1160.2V1166.70M237.80,1160.2V1166.70M268.98,1160.2V1166.70M300.15,1160.2V1166.70M331.33,1160.2V1166.70M362.50,1160.2V1166.70M393.68,1160.2V1166.70M424.85,1160.2V1166.70M456.02,1160.2V1166.70M487.20,1160.2V1166.70" stroke="#000" stroke-width="1.5" fill="none"/>
<text x="41.14" y="915.15" font-size="16" fill="#000">100%</text>
<text x="50.06" y="974.90" font-size="16" fill="#000">75%</text>
<text x="50.06" y="1034.80" font-size="16" fill="#000">50%</text>
<text x="50.06" y="1094.60" font-size="16" fill="#000">25%</text>
<text x="58.94" y="1153.30" font-size="16" fill="#000">0%</text>
<text x="113.10" y="1185.60" font-size="16" text-anchor="middle" fill="#000">0</text>
<text x="144.28" y="1185.60" font-size="16" text-anchor="middle" fill="#000">6</text>
<text x="175.45" y="1185.60" font-size="16" text-anchor="middle" fill="#000">12</text>
<text x="206.62" y="1185.60" font-size="16" text-anchor="middle" fill="#000">18</text>
<text x="237.80" y="1185.60" font-size="16" text-anchor="middle" fill="#000">24</text>
<text x="268.98" y="1185.60" font-size="16" text-anchor="middle" fill="#000">30</text>
<text x="300.15" y="1185.60" font-size="16" text-anchor="middle" fill="#000">36</text>
<text x="331.33" y="1185.60" font-size="16" text-anchor="middle" fill="#000">42</text>
<text x="362.50" y="1185.60" font-size="16" text-anchor="middle" fill="#000">48</text>
<text x="393.68" y="1185.60" font-size="16" text-anchor="middle" fill="#000">54</text>
<text x="424.85" y="1185.60" font-size="16" text-anchor="middle" fill="#000">60</text>
<text x="456.02" y="1185.60" font-size="16" text-anchor="middle" fill="#000">66</text>
<text x="487.20" y="1185.60" font-size="16" text-anchor="middle" fill="#000">72</text>
<text x="113.10" y="1250.40" font-size="16" text-anchor="middle" fill="#000">85</text>
<text x="113.10" y="1268.30" font-size="16" text-anchor="middle" fill="#000">86</text>
<text x="144.28" y="1250.40" font-size="16" text-anchor="middle" fill="#000">59</text>
<text x="144.28" y="1268.30" font-size="16" text-anchor="middle" fill="#000">78</text>
<text x="175.45" y="1250.40" font-size="16" text-anchor="middle" fill="#000">49</text>
<text x="175.45" y="1268.30" font-size="16" text-anchor="middle" fill="#000">66</text>
<text x="206.62" y="1250.40" font-size="16" text-anchor="middle" fill="#000">39</text>
<text x="206.62" y="1268.30" font-size="16" text-anchor="middle" fill="#000">59</text>
<text x="237.80" y="1250.40" font-size="16" text-anchor="middle" fill="#000">33</text>
<text x="237.80" y="1268.30" font-size="16" text-anchor="middle" fill="#000">31</text>
<text x="268.98" y="1250.40" font-size="16" text-anchor="middle" fill="#000">25</text>
<text x="268.98" y="1268.30" font-size="16" text-anchor="middle" fill="#000">10</text>
<text x="300.15" y="1250.40" font-size="16" text-anchor="middle" fill="#000">21</text>
<text x="300.15" y="1268.30" font-size="16" text-anchor="middle" fill="#000">1</text>
<text x="331.33" y="1250.40" font-size="16" text-anchor="middle" fill="#000">18</text>
<text x="331.33" y="1268.30" font-size="16" text-anchor="middle" fill="#000">0</text>
<text x="362.50" y="1250.40" font-size="16" text-anchor="middle" fill="#000">14</text>
<text x="362.50" y="1268.30" font-size="16" text-anchor="middle" fill="#000">0</text>
<text x="393.68" y="1250.40" font-size="16" text-anchor="middle" fill="#000">12</text>
<text x="393.68" y="1268.30" font-size="16" text-anchor="middle" fill="#000">0</text>
<text x="424.85" y="1250.40" font-size="16" text-anchor="middle" fill="#000">4</text>
<text x="424.85" y="1268.30" font-size="16" text-anchor="middle" fill="#000">0</text>
<text x="456.02" y="1250.40" font-size="16" text-anchor="middle" fill="#000">1</text>
<text x="456.02" y="1268.30" font-size="16" text-anchor="middle" fill="#000">0</text>
<text x="487.20" y="1250.40" font-size="16" text-anchor="middle" fill="#000">0</text>
<text x="487.20" y="1268.30" font-size="16" text-anchor="middle" fill="#000">0</text>
<text x="66.64" y="1250.30" font-size="16" fill="#c8102e" textLength="22.76" lengthAdjust="spacingAndGlyphs">S-5</text>
<text x="66.81" y="1267.20" font-size="16" fill="#0b4a8b" textLength="22.63" lengthAdjust="spacingAndGlyphs">Z-5</text>
<text x="104.51" y="1229.90" font-size="15.5" fill="#000" textLength="101.78" lengthAdjust="spacingAndGlyphs">Number at risk</text>
<text x="250.05" y="1212.40" font-size="20" fill="#000" textLength="100.95" lengthAdjust="spacingAndGlyphs">Time (months)</text>
<text transform="translate(30.70,1066.81) rotate(-90)" x="0" y="0" font-size="20.5" fill="#000" textLength="73.33" lengthAdjust="spacingAndGlyphs">Proportion</text>
<text x="197.64" y="891.20" font-size="20.2" fill="#000" textLength="205.61" lengthAdjust="spacingAndGlyphs">Time to next treatment</text>
<text x="13.66" y="892.80" font-size="25.8" font-weight="bold" fill="#000" textLength="16.98" lengthAdjust="spacingAndGlyphs">C</text>
<text x="253.29" y="955.80" font-size="15.8" fill="#000" textLength="58.58" lengthAdjust="spacingAndGlyphs">ZUMA-5</text>
<text x="393.23" y="1008.50" font-size="15.5" fill="#000" textLength="85.08" lengthAdjust="spacingAndGlyphs">SCHOLAR-5</text>
<rect x="204.2" y="122.1" width="8.1" height="9.9" fill="#0b4a8b"/><rect x="235.8" y="515.2" width="6.4" height="9.3" fill="#0b4a8b"/><rect x="243.9" y="515.2" width="12.5" height="9.3" fill="#0b4a8b"/><rect x="282.8" y="544.6" width="4" height="9.8" fill="#0b4a8b"/><rect x="236.5" y="990.8" width="4.1" height="9.2" fill="#0b4a8b"/><rect x="241.7" y="990.8" width="6.4" height="9.2" fill="#0b4a8b"/><rect x="249.2" y="990.8" width="6.4" height="9.2" fill="#0b4a8b"/><rect x="112.6" y="909.2" width="4.2" height="3.6" fill="#0b4a8b"/>
</svg>
</body></html>
